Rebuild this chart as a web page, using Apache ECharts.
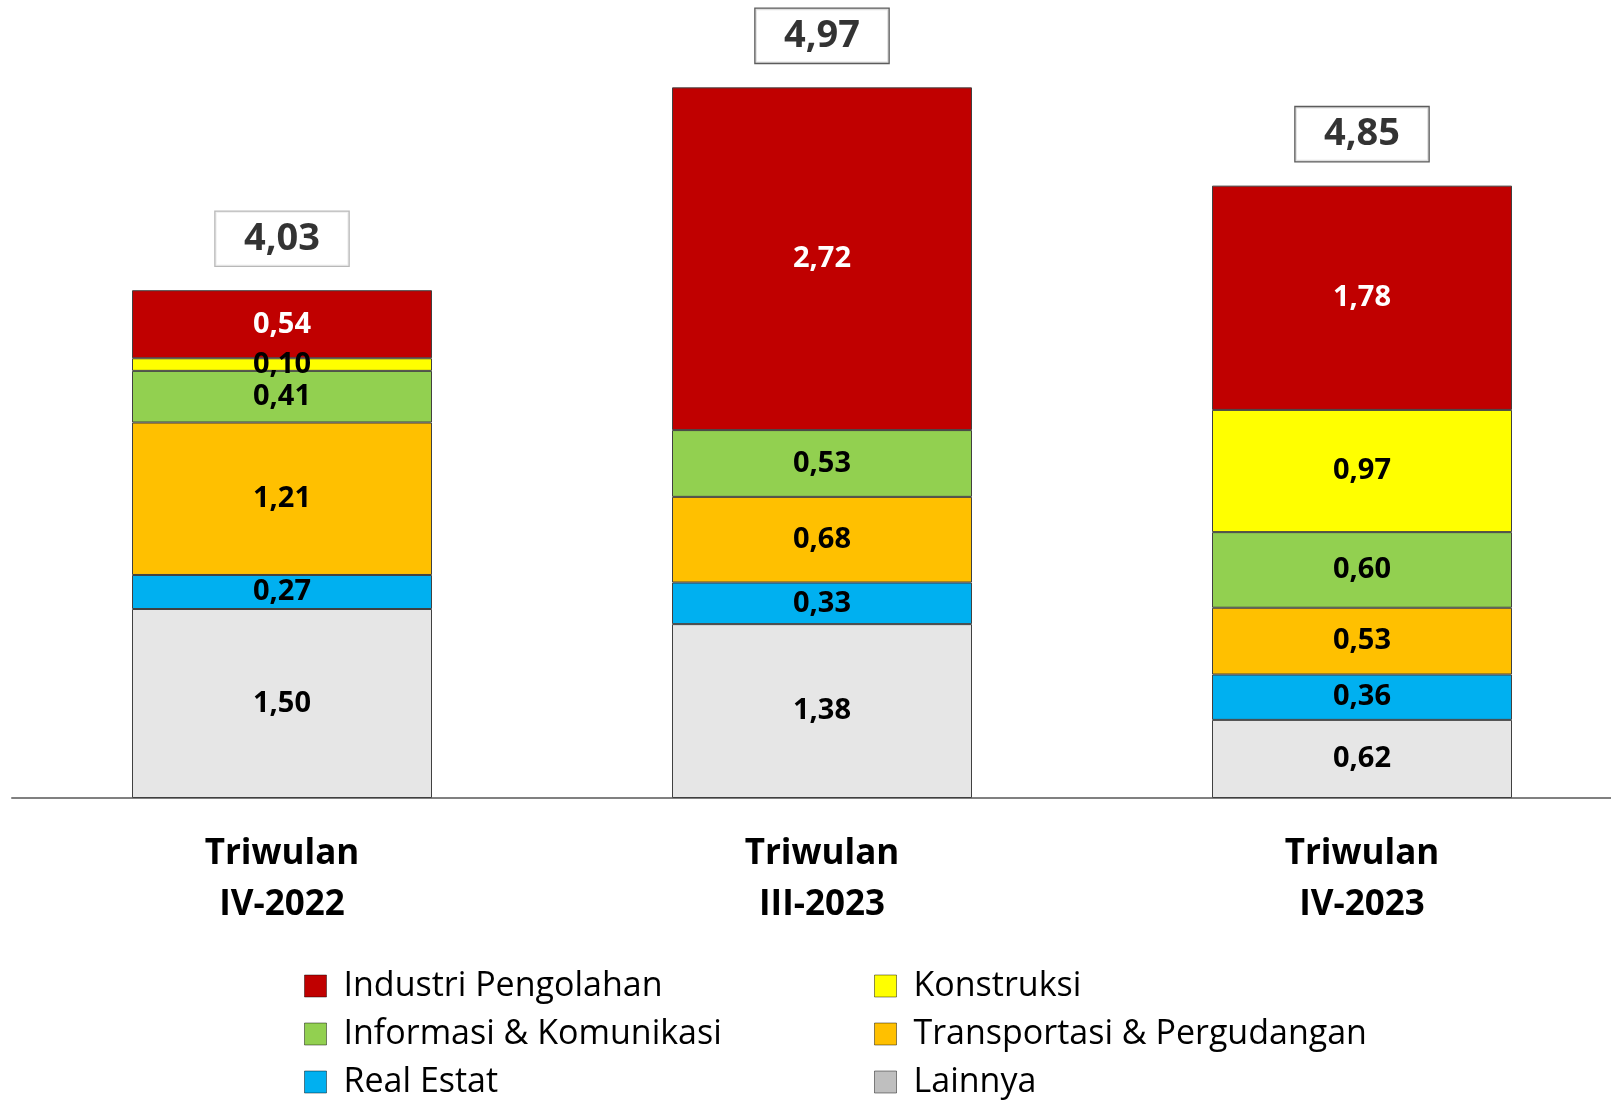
<!DOCTYPE html>
<html>
<head>
<meta charset="utf-8">
<script src="https://cdn.jsdelivr.net/npm/echarts@6/dist/echarts.min.js"></script>
<style>
  html, body { margin: 0; padding: 0; background: #fff; }
  #main { width: 1611px; height: 1100px; }
</style>
</head>
<body>
<div id="main"></div>
<script>
// kategori (sumbu x)
const categories = ['Triwulan\nIV-2022', 'Triwulan\nIII-2023', 'Triwulan\nIV-2023'];

// sumbangan per lapangan usaha (persen poin)
const industri = [0.54, 2.72, 1.78];
const konstruksi = [0.10, null, 0.97];
const informasi = [0.41, 0.53, 0.60];
const transportasi = [1.21, 0.68, 0.53];
const realEstat = [0.27, 0.33, 0.36];
const lainnya = [1.50, 1.38, 0.62];

// pertumbuhan total (kotak di atas batang)
const totals = [4.03, 4.97, 4.85];
const totalBorder = ['#a6a6a6', '#333333', '#333333'];

const fmt = v => v.toFixed(2).replace('.', ',');
const boldFont = "'Open Sans', 'Noto Sans', sans-serif";

// urutan dari bawah ke atas
const stackDefs = [
  { name: 'Lainnya', data: lainnya, color: '#E6E6E6', legendColor: '#BFBFBF', text: '#000' },
  { name: 'Real Estat', data: realEstat, color: '#00B0F0', text: '#000' },
  { name: 'Transportasi & Pergudangan', data: transportasi, color: '#FFC000', text: '#000' },
  { name: 'Informasi & Komunikasi', data: informasi, color: '#92D050', text: '#000' },
  { name: 'Konstruksi', data: konstruksi, color: '#FFFF00', text: '#000' },
  { name: 'Industri Pengolahan', data: industri, color: '#C00000', text: '#fff' }
];

const series = stackDefs.map(d => ({
  name: d.name,
  type: 'bar',
  stack: 'total',
  barWidth: 300,
  data: d.data,
  itemStyle: { color: d.color, borderColor: '#404040', borderWidth: 1 },
  label: {
    show: true,
    position: 'inside',
    formatter: p => fmt(p.value),
    color: d.text,
    fontFamily: boldFont,
    fontWeight: 'bold',
    fontSize: 29
  }
}));

// tinggi tumpukan = jumlah komponen
const stackTops = categories.map((c, i) => stackDefs.reduce((s, d) => s + (d.data[i] || 0), 0));

series.push({
  name: 'total',
  type: 'scatter',
  symbolSize: 1,
  itemStyle: { color: 'rgba(0,0,0,0)' },
  data: stackTops.map((v, i) => ({
    value: [i, v],
    label: { borderColor: totalBorder[i] }
  })),
  silent: true,
  label: {
    show: true,
    position: 'top',
    distance: 24,
    formatter: p => fmt(totals[p.dataIndex]),
    color: '#000',
    fontFamily: boldFont,
    fontWeight: 'bold',
    fontSize: 38,
    width: 133,
    height: 54,
    lineHeight: 54,
    align: 'center',
    backgroundColor: '#fff',
    borderWidth: 1.3
  }
});

const legendText = {
  fontFamily: "'Open Sans', sans-serif",
  fontSize: 34,
  lineHeight: 34,
  color: '#000',
  padding: [0, 0, 0, 12]
};
const legendItem = name => {
  const d = stackDefs.find(s => s.name === name);
  return { name: name, itemStyle: { color: d.legendColor || d.color, borderColor: 'rgba(0,0,0,0.45)', borderWidth: 1 } };
};

const option = {
  animation: false,
  backgroundColor: '#fff',
  grid: { left: 12, width: 1620, top: 42, bottom: 302, outerBoundsMode: 'none' },
  legend: [
    {
      orient: 'vertical', left: 304, top: 969, padding: 0, itemWidth: 22, itemHeight: 22, itemGap: 14,
      icon: 'rect', selectedMode: false, textStyle: legendText,
      data: ['Industri Pengolahan', 'Informasi & Komunikasi', 'Real Estat'].map(legendItem)
    },
    {
      orient: 'vertical', left: 874, top: 969, padding: 0, itemWidth: 22, itemHeight: 22, itemGap: 14,
      icon: 'rect', selectedMode: false, textStyle: legendText,
      data: ['Konstruksi', 'Transportasi & Pergudangan', 'Lainnya'].map(legendItem)
    }
  ],
  xAxis: {
    type: 'category',
    data: categories,
    axisTick: { show: false },
    axisLine: { lineStyle: { color: '#808080', width: 2 } },
    axisLabel: {
      margin: 31,
      color: '#000',
      fontFamily: boldFont,
      fontWeight: 'bold',
      fontSize: 35,
      lineHeight: 51
    }
  },
  yAxis: {
    type: 'value',
    min: 0,
    max: 6,
    show: false,
    splitLine: { show: false }
  },
  series: series
};

const chart = echarts.init(document.getElementById('main'));
chart.setOption(option);
</script>
</body>
</html>
